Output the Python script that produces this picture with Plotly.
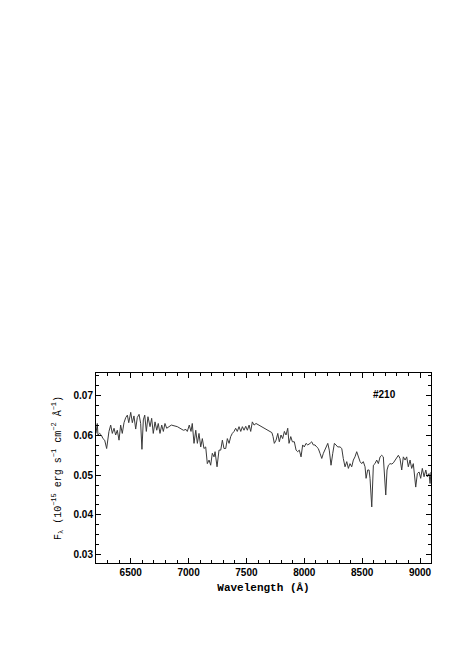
import plotly.graph_objects as go

wavelength = [
    6200, 6211, 6217, 6232, 6246, 6260, 6275, 6292, 6312, 6327, 6341, 6356, 6370, 6384, 6399,
    6413, 6427, 6442, 6457, 6471, 6483, 6500, 6514, 6528, 6543, 6557, 6572, 6586, 6597,
    6609, 6621, 6635, 6649, 6667, 6681, 6695, 6710, 6725, 6738, 6753, 6768, 6782, 6796,
    6811, 6831, 6851, 6903, 6926, 6955, 6978, 6989, 7006, 7021, 7032, 7047, 7062, 7076,
    7090, 7105, 7119, 7133, 7148, 7162, 7177, 7191, 7205, 7220, 7229, 7246, 7263, 7278,
    7292, 7306, 7321, 7335, 7350, 7364, 7378, 7393, 7407, 7421, 7436, 7451, 7465, 7479,
    7494, 7508, 7523, 7537, 7551, 7566, 7583, 7720, 7730, 7741, 7756, 7771, 7784, 7799,
    7813, 7828, 7842, 7857, 7868, 7883, 7897, 7914, 7929, 7943, 7957, 7972, 7986, 8000,
    8015, 8030, 8050, 8064, 8078, 8093, 8107, 8121, 8136, 8151, 8165, 8185, 8203, 8216,
    8231, 8246, 8260, 8274, 8289, 8309, 8324, 8337, 8352, 8367, 8381, 8395, 8410, 8424,
    8438, 8453, 8467, 8482, 8496, 8510, 8525, 8534, 8548, 8560, 8568, 8583, 8597, 8611,
    8626, 8640, 8655, 8669, 8683, 8704, 8715, 8727, 8741, 8756, 8770, 8784, 8799, 8813,
    8827, 8842, 8856, 8871, 8885, 8899, 8914, 8928, 8942, 8963, 8977, 8992, 9006, 9020,
    9035, 9050, 9063, 9078, 9087, 9095,
]
flux = [
    0.0605, 0.0630, 0.0601, 0.0605, 0.0601, 0.0592, 0.0588, 0.0567, 0.0610, 0.0626, 0.0605, 0.0618, 0.0601, 0.0613, 0.0588,
    0.0626, 0.0605, 0.0632, 0.0645, 0.0651, 0.0632, 0.0658, 0.0632, 0.0649, 0.0616, 0.0645, 0.0653, 0.0630, 0.0565,
    0.0639, 0.0651, 0.0610, 0.0647, 0.0622, 0.0643, 0.0605, 0.0634, 0.0613, 0.0630, 0.0605, 0.0626, 0.0610, 0.0630,
    0.0618, 0.0622, 0.0626, 0.0622, 0.0618, 0.0613, 0.0615, 0.0610, 0.0626, 0.0610, 0.0630, 0.0580, 0.0613, 0.0580,
    0.0605, 0.0571, 0.0592, 0.0567, 0.0571, 0.0529, 0.0538, 0.0525, 0.0555, 0.0546, 0.0559, 0.0521, 0.0563, 0.0563,
    0.0588, 0.0567, 0.0567, 0.0592, 0.0580, 0.0597, 0.0605, 0.0610, 0.0618, 0.0610, 0.0622, 0.0610, 0.0622, 0.0613,
    0.0623, 0.0613, 0.0626, 0.0610, 0.0634, 0.0626, 0.0630, 0.0607, 0.0597, 0.0580, 0.0588, 0.0605, 0.0584, 0.0601,
    0.0592, 0.0610, 0.0601, 0.0618, 0.0580, 0.0597, 0.0584, 0.0584, 0.0563, 0.0559, 0.0563, 0.0546, 0.0576, 0.0571,
    0.0580, 0.0576, 0.0580, 0.0584, 0.0576, 0.0576, 0.0571, 0.0567, 0.0555, 0.0542, 0.0555, 0.0567, 0.0580, 0.0563,
    0.0525, 0.0555, 0.0580, 0.0576, 0.0571, 0.0571, 0.0567, 0.0542, 0.0521, 0.0534, 0.0517, 0.0529, 0.0521, 0.0538,
    0.0546, 0.0559, 0.0546, 0.0534, 0.0529, 0.0534, 0.0521, 0.0492, 0.0513, 0.0513, 0.0492, 0.0420, 0.0525, 0.0529,
    0.0538, 0.0529, 0.0546, 0.0550, 0.0546, 0.0450, 0.0513, 0.0525, 0.0529, 0.0528, 0.0531, 0.0538, 0.0546, 0.0550,
    0.0542, 0.0513, 0.0546, 0.0538, 0.0546, 0.0521, 0.0538, 0.0517, 0.0529, 0.0470, 0.0504, 0.0508, 0.0492, 0.0517,
    0.0496, 0.0513, 0.0496, 0.0504, 0.0479, 0.0508,
]
x_range = [6200, 9095]
y_range = [0.0279, 0.0757]
x_ticks = [6500, 7000, 7500, 8000, 8500, 9000]
y_ticks = [0.03, 0.04, 0.05, 0.06, 0.07]
label_text = "<b>#210</b>"

fig = go.Figure()
fig.add_trace(go.Scatter(x=wavelength, y=flux, mode="lines",
                         line=dict(color="#3a3a3a", width=1), showlegend=False))

fig.add_annotation(x=8689, y=0.0702, text=label_text, showarrow=False,
                   font=dict(family="Liberation Sans", size=10, color="black"))

axis_common = dict(showgrid=False, zeroline=False, showline=True, linecolor="black",
                   linewidth=1, mirror="allticks", ticks="inside", ticklen=5,
                   tickcolor="black", tickwidth=1,
                   tickfont=dict(family="Liberation Sans", size=10, color="black",
                                 weight="bold"))

fig.update_xaxes(range=x_range, tickvals=x_ticks,
                 minor=dict(dtick=100, tick0=6200, ticks="inside", ticklen=3, tickcolor="black"),
                 title=dict(text="<b>Wavelength (Å)</b>", standoff=6,
                            font=dict(family="Liberation Mono", size=11, color="black")),
                 **axis_common)
fig.update_yaxes(range=y_range, tickvals=y_ticks, tickformat=".2f",
                 minor=dict(dtick=0.0025, tick0=0.03, ticks="inside", ticklen=3, tickcolor="black"),
                 title=dict(text="F<sub>λ</sub> (10<sup>−15</sup> erg s<sup>−1</sup> cm<sup>−2</sup> Å<sup>−1</sup>)",
                            standoff=10,
                            font=dict(family="Liberation Mono", size=10, color="black")),
                 **axis_common)

fig.update_layout(width=450, height=652, plot_bgcolor="white", paper_bgcolor="white",
                  margin=dict(l=88, r=27, t=365, b=97), showlegend=False)

fig.write_html("out.html")
